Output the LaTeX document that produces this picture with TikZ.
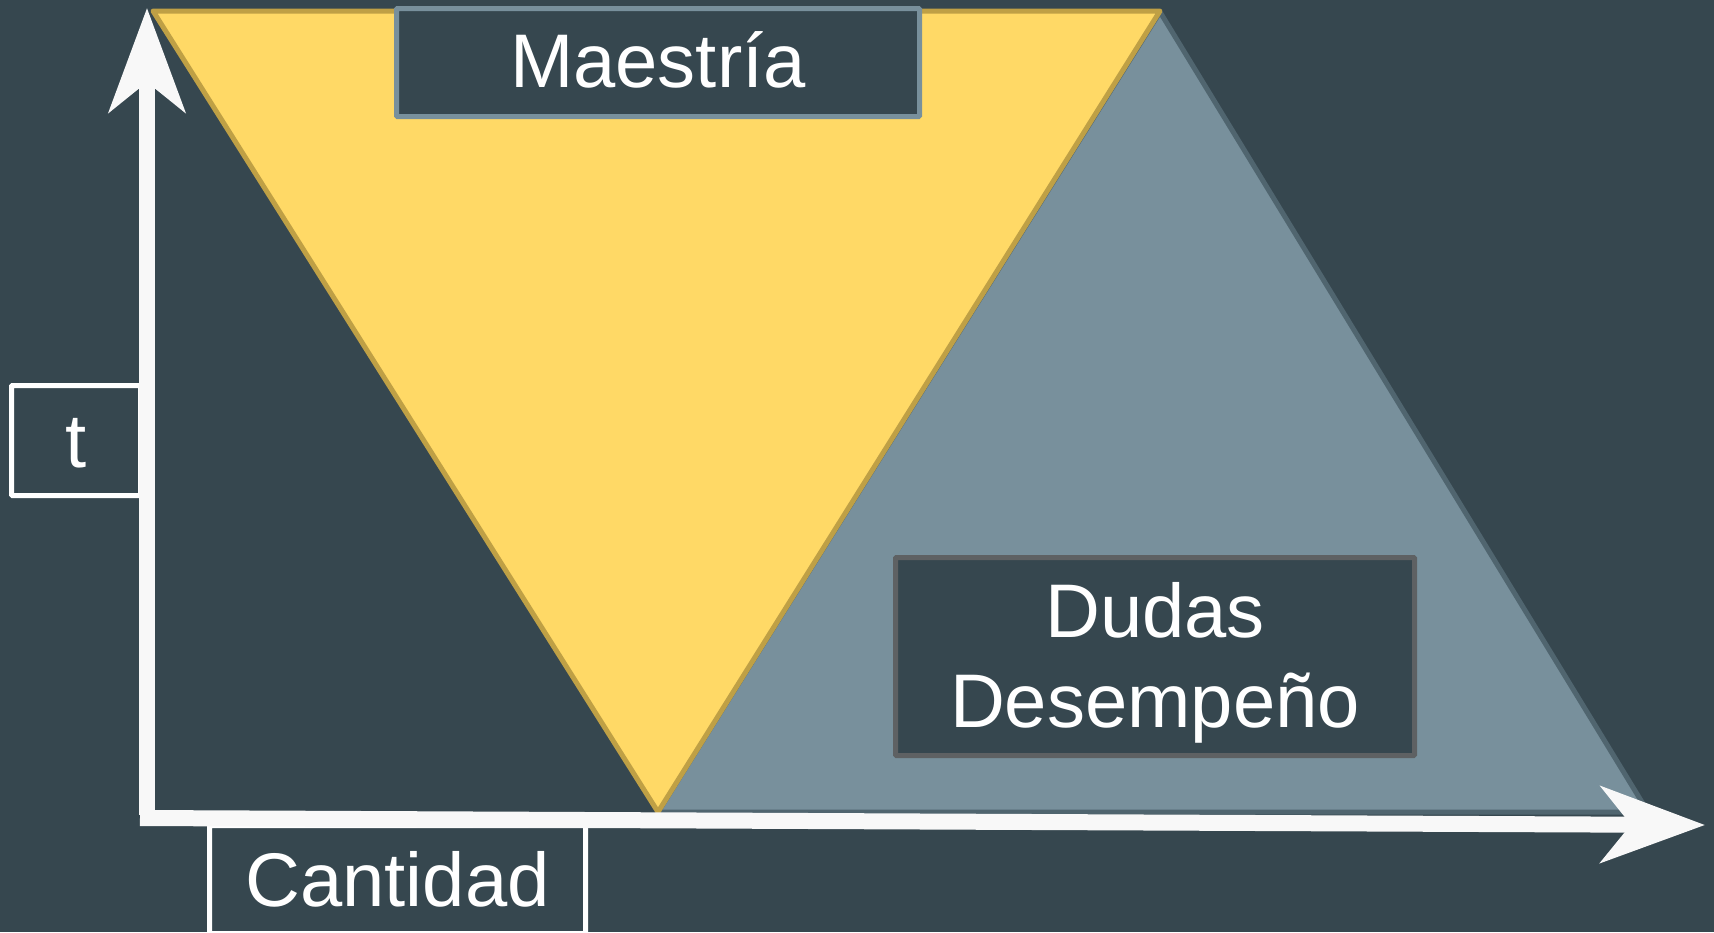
\documentclass[tikz,border=0pt]{standalone}
\usepackage{fontspec}
\setmainfont{Liberation Sans}
\usetikzlibrary{arrows.meta}
\definecolor{bg}{HTML}{36474F}
\definecolor{yel}{HTML}{FFD966}
\definecolor{yelb}{HTML}{BFA045}
\definecolor{gry}{HTML}{78909C}
\definecolor{gryb}{HTML}{50656F}
\definecolor{boxg}{HTML}{5E6163}
\definecolor{axw}{HTML}{F8F8F8}
\tikzset{
  lbl/.style={draw, line width=5pt, fill=bg, text=white, inner sep=0pt,
    font=\fontsize{76}{90}\selectfont, align=center, rounded corners=1pt},
  oneline/.style={text height=54.4pt, text depth=0pt},
  axis/.style={draw=axw, line width=16pt,
    -{Stealth[length=104pt,width=76pt,inset=30pt]}},
}
\begin{document}
\begin{tikzpicture}[x=1pt,y=-1pt]
\useasboundingbox (0,0) rectangle (1714,932);
\fill[bg] (0,0) rectangle (1714,932);
% gray triangle
\coordinate (g1) at (1160,12);
\coordinate (g2) at (658,812);
\coordinate (g3) at (1648,812);
\filldraw[fill=gry, draw=gryb, line width=5pt, line join=round] (g1) -- (g2) -- (g3) -- cycle;
% yellow triangle
\coordinate (y1) at (153,11);
\coordinate (y2) at (1160,11);
\coordinate (y3) at (658,812);
\filldraw[fill=yel, draw=yelb, line width=5pt, line join=round] (y1) -- (y2) -- (y3) -- cycle;
% boxes
\node[lbl, oneline, draw=gry, minimum width=523pt, minimum height=108pt, text depth=4pt] (maes) at (658,62.5) {Maestría};
\node[lbl, draw=boxg, minimum width=519pt, minimum height=198pt, text height=150pt, text depth=9pt] (dudas) at (1155,656.5) {Dudas\\Desempeño};
\node[lbl, oneline, draw=white, minimum width=376pt, minimum height=108pt] (cant) at (397.5,879.5) {Cantidad};
\node[lbl, oneline, draw=white, minimum width=129pt, minimum height=110pt] (tlab) at (76,440.5) {t};
% axes
\coordinate (o1) at (147,815);
\coordinate (yt) at (147,8);
\coordinate (o2) at (140,818);
\coordinate (xt) at (1705,825);
\draw[axis] (o1) -- (yt);
\draw[axis] (o2) -- (xt);
\end{tikzpicture}
\end{document}
